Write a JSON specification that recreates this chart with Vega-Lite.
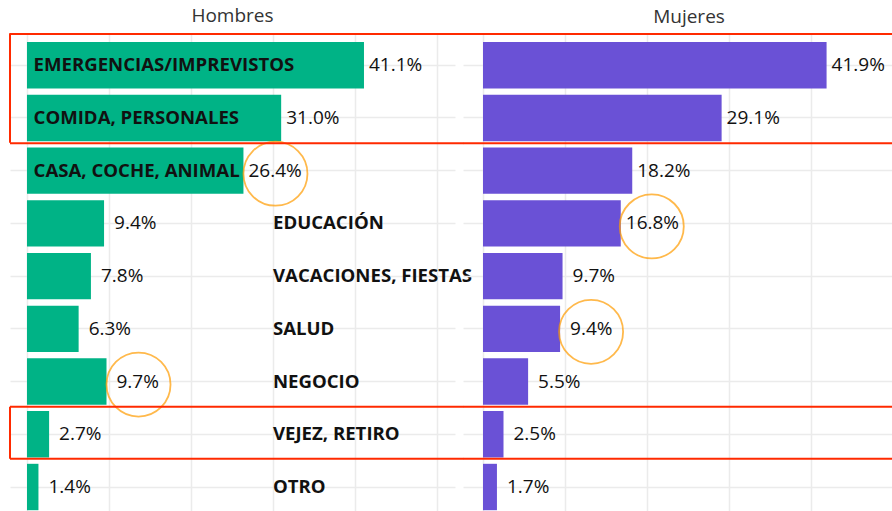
{
  "$schema": "https://vega.github.io/schema/vega-lite/v6.json",
  "padding": {"left": 9, "top": 7, "right": 0, "bottom": 0},
  "bounds": "flush",
  "spacing": 8,
  "config": {
    "view": {"stroke": null},
    "font": "Open Sans",
    "title": {"fontSize": 19, "fontWeight": "normal", "color": "#333333", "baseline": "alphabetic", "offset": 6, "font": "Open Sans"},
    "axis": {"gridColor": "#ebebeb", "gridWidth": 1.5, "labels": false, "ticks": false, "domain": false, "title": null}
  },
  "datasets": {
    "ahorro": [
      {"categoria": "EMERGENCIAS/IMPREVISTOS", "hombres": 41.1, "mujeres": 41.9, "circulo_h": false, "circulo_m": false},
      {"categoria": "COMIDA, PERSONALES", "hombres": 31.0, "mujeres": 29.1, "circulo_h": false, "circulo_m": false},
      {"categoria": "CASA, COCHE, ANIMAL", "hombres": 26.4, "mujeres": 18.2, "circulo_h": true, "circulo_m": false},
      {"categoria": "EDUCACIÓN", "hombres": 9.4, "mujeres": 16.8, "circulo_h": false, "circulo_m": true},
      {"categoria": "VACACIONES, FIESTAS", "hombres": 7.8, "mujeres": 9.7, "circulo_h": false, "circulo_m": false},
      {"categoria": "SALUD", "hombres": 6.3, "mujeres": 9.4, "circulo_h": false, "circulo_m": true},
      {"categoria": "NEGOCIO", "hombres": 9.7, "mujeres": 5.5, "circulo_h": true, "circulo_m": false},
      {"categoria": "VEJEZ, RETIRO", "hombres": 2.7, "mujeres": 2.5, "circulo_h": false, "circulo_m": false},
      {"categoria": "OTRO", "hombres": 1.4, "mujeres": 1.7, "circulo_h": false, "circulo_m": false}
    ]
  },
  "hconcat": [
    {
      "width": 445,
      "height": 478,
      "title": {"text": "Hombres"},
      "data": {"name": "ahorro"},
      "encoding": {
        "y": {"field": "categoria", "type": "nominal", "sort": null,
              "scale": {"paddingInner": 0.12, "paddingOuter": 0.093, "align": 0.817},
              "axis": {"grid": true, "bandPosition": 0.5}}
      },
      "layer": [
        {"mark": {"type": "bar", "color": "#00b386"},
         "encoding": {"x": {"field": "hombres", "type": "quantitative",
                            "scale": {"domain": [-2.07, 52.2], "nice": false, "zero": false},
                            "axis": {"values": [0, 10, 20, 30, 40, 50], "grid": true}}}},
        {"transform": [{"filter": "datum.hombres >= 12"}],
         "mark": {"type": "text", "align": "left", "baseline": "middle", "dx": 5, "fontSize": 19, "color": "#111111",
                  "text": {"expr": "format(datum.hombres, '.1f') + '%'"}},
         "encoding": {"x": {"field": "hombres", "type": "quantitative"}}},
        {"transform": [{"filter": "datum.hombres < 12"}],
         "mark": {"type": "text", "align": "left", "baseline": "middle", "dx": 10, "fontSize": 19, "color": "#111111",
                  "text": {"expr": "format(datum.hombres, '.1f') + '%'"}},
         "encoding": {"x": {"field": "hombres", "type": "quantitative"}}},
        {"transform": [{"filter": "datum.hombres > 20"}],
         "mark": {"type": "text", "align": "left", "baseline": "middle", "fontSize": 18.6, "fontWeight": "bold", "color": "#111111"},
         "encoding": {"x": {"datum": 0.8}, "text": {"field": "categoria"}}},
        {"transform": [{"filter": "datum.hombres <= 20"}],
         "mark": {"type": "text", "align": "left", "baseline": "middle", "fontSize": 18.6, "fontWeight": "bold", "color": "#111111"},
         "encoding": {"x": {"datum": 30.0}, "text": {"field": "categoria"}}},
        {"transform": [{"filter": "datum.circulo_h"}],
         "mark": {"type": "point", "shape": "circle", "filled": false, "color": "#ff9c00", "strokeWidth": 1.8, "size": 4100, "xOffset": 32, "yOffset": 3},
         "encoding": {"x": {"field": "hombres", "type": "quantitative"}}},
        {"transform": [{"filter": "datum.categoria === 'EMERGENCIAS/IMPREVISTOS'"}],
         "mark": {"type": "rule", "color": "#ff2a00", "strokeWidth": 2},
         "encoding": {"y": {"field": "categoria", "type": "nominal", "bandPosition": -0.172}, "x": {"datum": -2.07}, "x2": {"datum": 53.2}}},
        {"transform": [{"filter": "datum.categoria === 'COMIDA, PERSONALES'"}],
         "mark": {"type": "rule", "color": "#ff2a00", "strokeWidth": 2},
         "encoding": {"y": {"field": "categoria", "type": "nominal", "bandPosition": 1.045}, "x": {"datum": -2.07}, "x2": {"datum": 53.2}}},
        {"transform": [{"filter": "datum.categoria === 'VEJEZ, RETIRO'"}],
         "mark": {"type": "rule", "color": "#ff2a00", "strokeWidth": 2},
         "encoding": {"y": {"field": "categoria", "type": "nominal", "bandPosition": -0.093}, "x": {"datum": -2.07}, "x2": {"datum": 53.2}}},
        {"transform": [{"filter": "datum.categoria === 'VEJEZ, RETIRO'"}],
         "mark": {"type": "rule", "color": "#ff2a00", "strokeWidth": 2},
         "encoding": {"y": {"field": "categoria", "type": "nominal", "bandPosition": 1.03}, "x": {"datum": -2.07}, "x2": {"datum": 53.2}}},
        {"transform": [{"filter": "datum.categoria === 'EMERGENCIAS/IMPREVISTOS'"}],
         "mark": {"type": "rect", "filled": false, "color": "#ff2a00", "strokeWidth": 2, "height": 109.5, "yOffset": 22.75},
         "encoding": {"x": {"datum": -2.07}, "x2": {"datum": -2.07}}},
        {"transform": [{"filter": "datum.categoria === 'VEJEZ, RETIRO'"}],
         "mark": {"type": "rect", "filled": false, "color": "#ff2a00", "strokeWidth": 2, "height": 52, "yOffset": -1.5},
         "encoding": {"x": {"datum": -2.07}, "x2": {"datum": -2.07}}}
      ]
    },
    {
      "width": 430,
      "height": 478,
      "title": {"text": "Mujeres", "dx": 11},
      "data": {"name": "ahorro"},
      "encoding": {
        "y": {"field": "categoria", "type": "nominal", "sort": null,
              "scale": {"paddingInner": 0.12, "paddingOuter": 0.093, "align": 0.817},
              "axis": {"grid": true, "bandPosition": 0.5}}
      },
      "layer": [
        {"mark": {"type": "bar", "color": "#6a51d6"},
         "encoding": {"x": {"field": "mujeres", "type": "quantitative",
                            "scale": {"domain": [-2.44, 50], "nice": false, "zero": false},
                            "axis": {"values": [0, 10, 20, 30, 40, 50], "grid": true}}}},
        {"transform": [{"filter": "datum.mujeres >= 12"}],
         "mark": {"type": "text", "align": "left", "baseline": "middle", "dx": 5, "fontSize": 19, "color": "#111111",
                  "text": {"expr": "format(datum.mujeres, '.1f') + '%'"}},
         "encoding": {"x": {"field": "mujeres", "type": "quantitative"}}},
        {"transform": [{"filter": "datum.mujeres < 12"}],
         "mark": {"type": "text", "align": "left", "baseline": "middle", "dx": 10, "fontSize": 19, "color": "#111111",
                  "text": {"expr": "format(datum.mujeres, '.1f') + '%'"}},
         "encoding": {"x": {"field": "mujeres", "type": "quantitative"}}},
        {"transform": [{"filter": "datum.circulo_m"}],
         "mark": {"type": "point", "shape": "circle", "filled": false, "color": "#ff9c00", "strokeWidth": 1.8, "size": 4100, "xOffset": 31, "yOffset": 3},
         "encoding": {"x": {"field": "mujeres", "type": "quantitative"}}},
        {"transform": [{"filter": "datum.categoria === 'EMERGENCIAS/IMPREVISTOS'"}],
         "mark": {"type": "rule", "color": "#ff2a00", "strokeWidth": 2},
         "encoding": {"y": {"field": "categoria", "type": "nominal", "bandPosition": -0.172}, "x": {"datum": -2.44}, "x2": {"datum": 50}}},
        {"transform": [{"filter": "datum.categoria === 'COMIDA, PERSONALES'"}],
         "mark": {"type": "rule", "color": "#ff2a00", "strokeWidth": 2},
         "encoding": {"y": {"field": "categoria", "type": "nominal", "bandPosition": 1.045}, "x": {"datum": -2.44}, "x2": {"datum": 50}}},
        {"transform": [{"filter": "datum.categoria === 'VEJEZ, RETIRO'"}],
         "mark": {"type": "rule", "color": "#ff2a00", "strokeWidth": 2},
         "encoding": {"y": {"field": "categoria", "type": "nominal", "bandPosition": -0.093}, "x": {"datum": -2.44}, "x2": {"datum": 50}}},
        {"transform": [{"filter": "datum.categoria === 'VEJEZ, RETIRO'"}],
         "mark": {"type": "rule", "color": "#ff2a00", "strokeWidth": 2},
         "encoding": {"y": {"field": "categoria", "type": "nominal", "bandPosition": 1.03}, "x": {"datum": -2.44}, "x2": {"datum": 50}}}
      ]
    }
  ]
}
